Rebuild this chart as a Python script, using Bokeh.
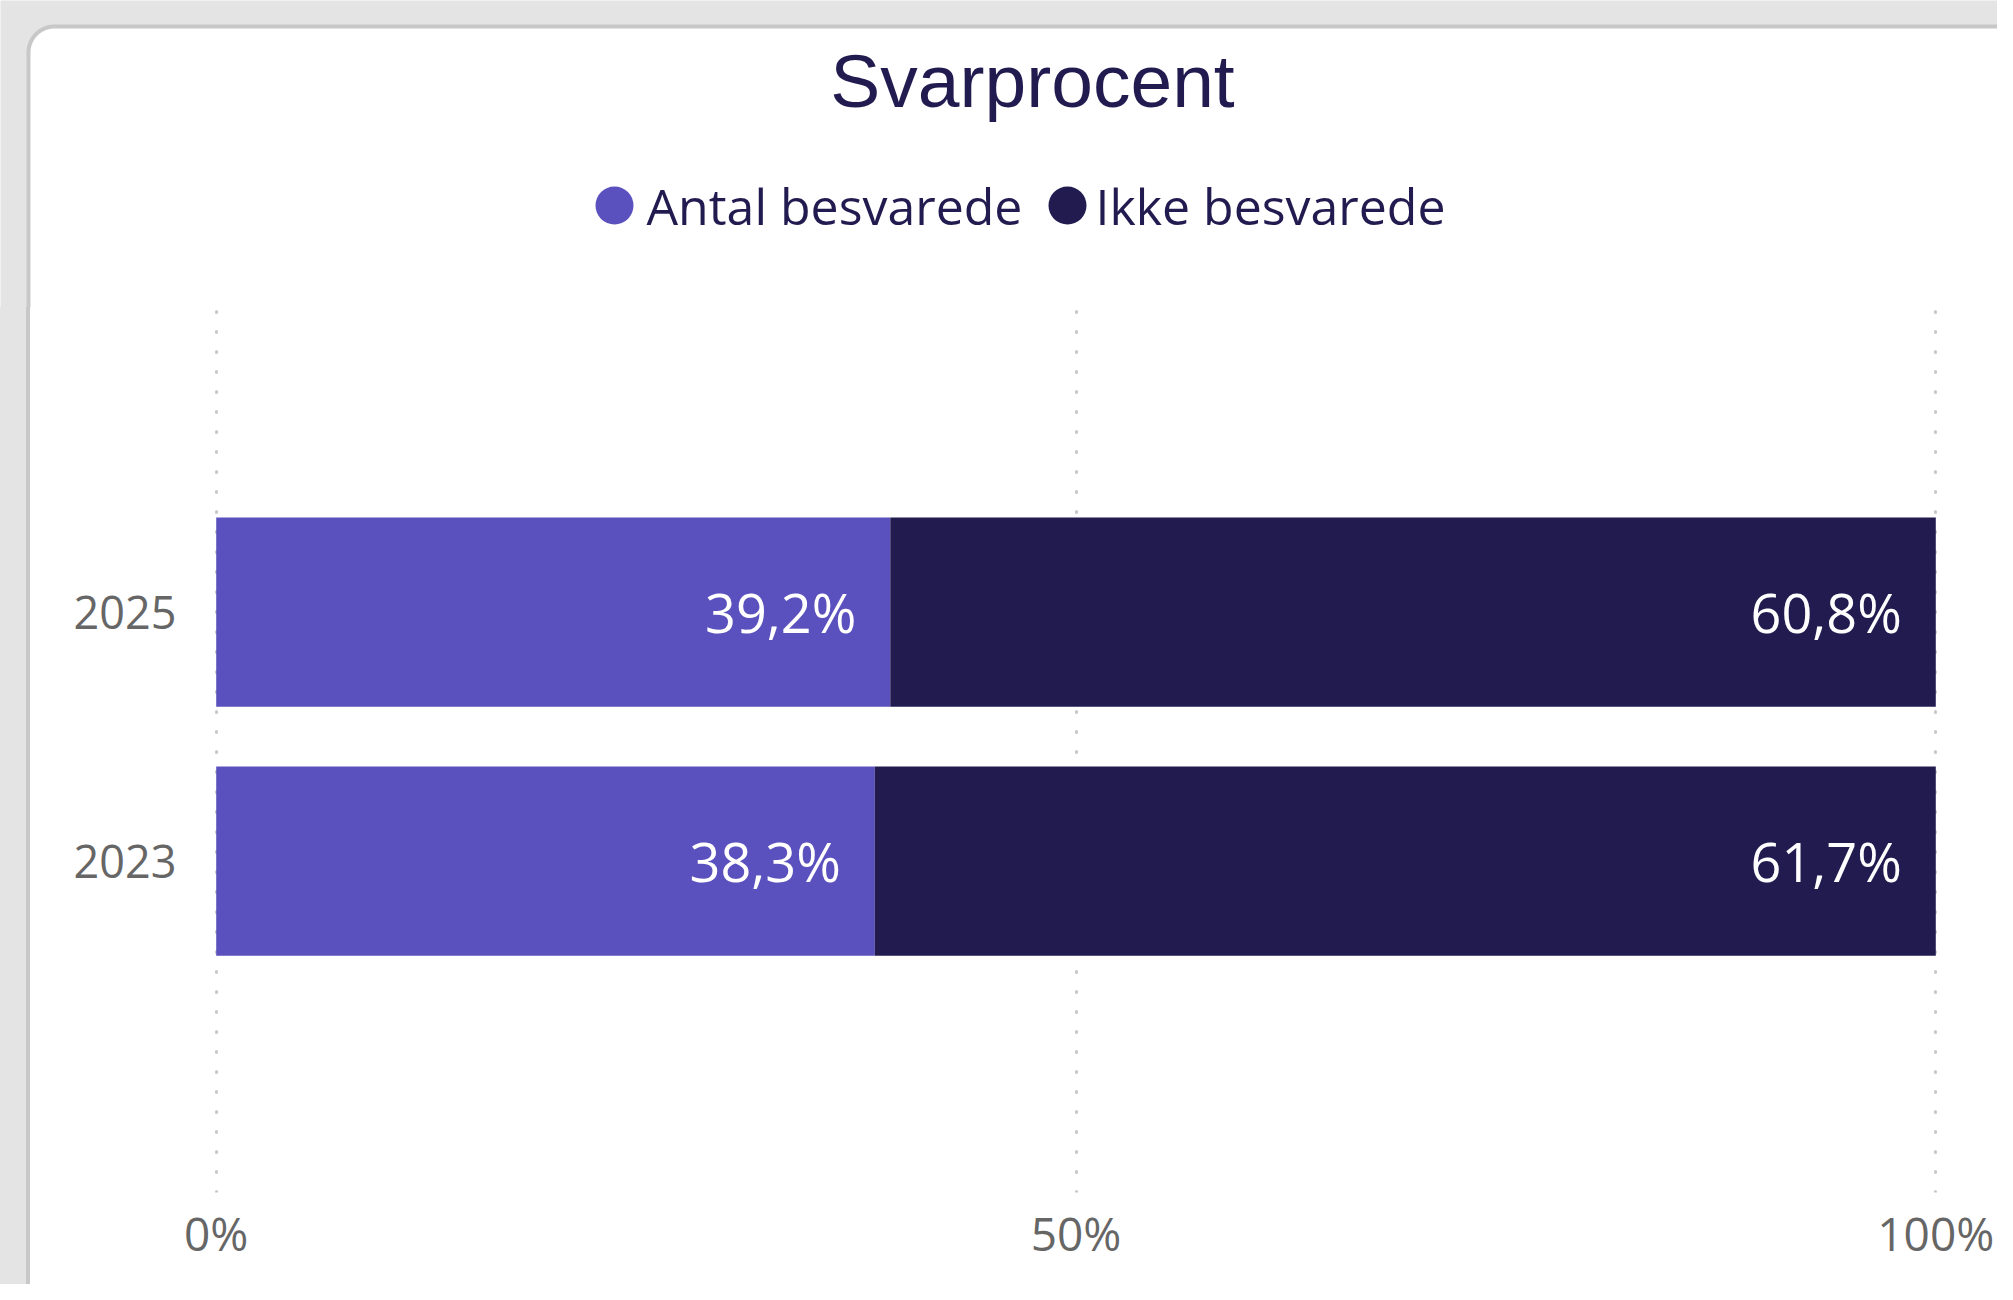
import numpy as np
from bokeh.plotting import figure
from bokeh.layouts import column, row
from bokeh.models import Range1d, FixedTicker, Div
from bokeh.core.properties import value
from bokeh.embed import file_html
from bokeh.resources import INLINE

# ---- data ----
years = ["2025", "2023"]
answered = [39.2, 38.3]
not_answered = [60.8, 61.7]
series = ["Antal besvarede", "Ikke besvarede"]
colors = ["#5A50BE", "#221B50"]
x_ticks = [0, 50, 100]
x_tick_labels = ["0%", "50%", "100%"]
title_text = "Svarprocent"

# ---- layout constants (pixels) ----
W, H = 1997, 1284
HT = 307            # header height (frame top of the chart)
SW = 30             # left strip width
FL, FR, FB = 214, 1937, 1192
Y_LO, Y_HI = -1.331, 2.223
X_LO, X_HI = -0.1, 100.1
NAVY = "#221B50"
GREY_TXT = "#666666"
BG_GREY = "#E4E4E4"
CARD_LINE = "#C8C8C8"
CX, CY, CR = 28, 26, 26   # card border (center line) left, top, corner radius


def fmt(v):
    return f"{v:.1f}".replace(".", ",") + "%"


def bare(fig):
    fig.xaxis.visible = False
    fig.yaxis.visible = False
    fig.xgrid.visible = False
    fig.ygrid.visible = False
    fig.outline_line_color = None
    fig.background_fill_color = "white"
    fig.border_fill_color = "white"
    fig.min_border = 0
    return fig


# ---------------- header: title, legend, card top ----------------
hdr = bare(figure(width=W, height=HT, x_range=Range1d(0, W), y_range=Range1d(HT, 0),
                  output_backend="svg", toolbar_location=None,
                  min_border_left=0, min_border_right=0, min_border_top=0, min_border_bottom=0))
hdr.quad(left=[-10], right=[W + 10], top=[-10], bottom=[HT + 10], fill_color=BG_GREY,
         line_color=None)
t = np.linspace(np.pi, 1.5 * np.pi, 24)
arc_x = list(CX + CR + CR * np.cos(t))
arc_y = list(CY + CR + CR * np.sin(t))
card_x = [CX] + arc_x + [W + 10, W + 10, CX]
card_y = [HT + 10] + arc_y + [CY, HT + 10, HT + 10]
hdr.patch(card_x, card_y, fill_color="white", line_color=None)
hdr.line([CX] + arc_x + [W + 10], [HT + 10] + arc_y + [CY], line_color=CARD_LINE,
         line_width=4)

hdr.text(x=[1032], y=[80], text=[title_text], text_align="center", text_baseline="middle",
         text_font=value("Liberation Sans"), text_font_size="75px", text_color=NAVY)

leg_circle_x = [614, 1067]
leg_text_x = [646, 1095]
LEG_Y = 205
hdr.scatter(x=leg_circle_x, y=[LEG_Y] * len(series), size=38, marker="circle",
            fill_color=colors, line_color=None)
hdr.text(x=leg_text_x, y=[LEG_Y] * len(series), text=series, text_align="left",
         text_baseline="middle", text_font=value("Open Sans"), text_font_size="50px",
         text_color=NAVY)

# ---------------- left strip of the card ----------------
MH = H - HT
strip = Div(text="", width=SW, height=MH, margin=0,
            styles={"background": f"linear-gradient(to right, {BG_GREY} 0px, {BG_GREY} {CX - 2}px, "
                                  f"{CARD_LINE} {CX - 2}px, {CARD_LINE} {CX + 2}px)"})

# ---------------- main chart ----------------
n = len(years)
ypos = [n - 1 - i for i in range(n)]
totals = [a + b for a, b in zip(answered, not_answered)]

p = figure(width=W - SW, height=MH, x_range=Range1d(X_LO, X_HI), y_range=Range1d(Y_LO, Y_HI),
           output_backend="svg", toolbar_location=None,
           min_border_left=FL - SW, min_border_right=W - FR,
           min_border_top=0, min_border_bottom=H - FB)
p.background_fill_color = "white"
p.border_fill_color = "white"
p.outline_line_color = None

p.hbar(y=ypos, left=[0] * n, right=answered, height=0.76,
       fill_color=colors[0], line_color=None)
p.hbar(y=ypos, left=answered, right=totals, height=0.76,
       fill_color=colors[1], line_color=None)

p.text(x=answered, y=ypos, text=[fmt(v) for v in answered], text_align="right",
       text_baseline="middle", x_offset=-34, text_color="white",
       text_font=value("Open Sans"), text_font_size="54px")
p.text(x=totals, y=ypos, text=[fmt(v) for v in not_answered], text_align="right",
       text_baseline="middle", x_offset=-34, text_color="white",
       text_font=value("Open Sans"), text_font_size="54px")

p.xaxis.ticker = FixedTicker(ticks=x_ticks)
p.xaxis.major_label_overrides = {t_: l for t_, l in zip(x_ticks, x_tick_labels)}
p.yaxis.ticker = FixedTicker(ticks=ypos)
p.yaxis.major_label_overrides = {y: l for y, l in zip(ypos, years)}
for ax in (p.xaxis, p.yaxis):
    ax.axis_line_color = None
    ax.major_tick_line_color = None
    ax.minor_tick_line_color = None
    ax.major_tick_out = 0
    ax.major_tick_in = 0
    ax.major_label_text_font = "Open Sans"
    ax.major_label_text_color = GREY_TXT
p.xaxis.major_label_text_font_size = "46px"
p.yaxis.major_label_text_font_size = "45px"
p.yaxis.major_label_standoff = 38
p.xaxis.major_label_standoff = 9

p.ygrid.visible = False
p.xgrid.ticker = FixedTicker(ticks=x_ticks)
p.xgrid.grid_line_color = CARD_LINE
p.xgrid.grid_line_width = 3
p.xgrid.grid_line_dash = "1 19"
p.xgrid.grid_line_cap = "round"

layout = column(hdr, row(strip, p, spacing=0), spacing=0)

open("out.html", "w").write(file_html(layout, INLINE))
